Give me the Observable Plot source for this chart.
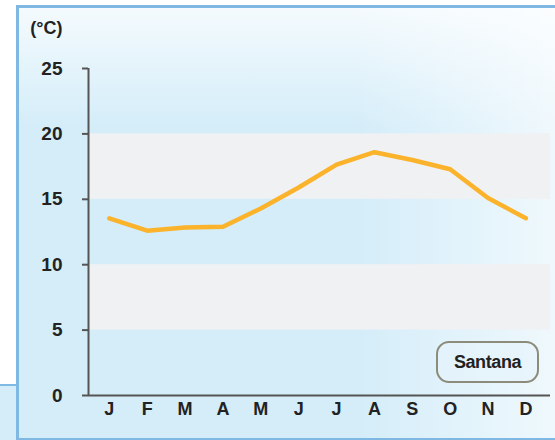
<!DOCTYPE html>
<html>
<head>
<meta charset="utf-8">
<script src="https://cdn.jsdelivr.net/npm/d3@7"></script>
<script src="https://cdn.jsdelivr.net/npm/@observablehq/plot@0.6"></script>
<style>
  html, body { margin: 0; padding: 0; background: white; }
  #wrap { position: relative; width: 555px; height: 440px; overflow: hidden; font-family: "Liberation Sans", Arial, sans-serif; }
  #leftpanel { position: absolute; left: 0; top: 384px; width: 18px; height: 60px; background: #d4edf9; border-top: 2px solid #7fb8e3; }
  #panel { position: absolute; left: 16px; top: 5px; width: 560px; height: 430px; border-left: 3px solid #7fb8e3; border-top: 3px solid #7fb8e3; border-bottom: 2px solid #7fb8e3;
    background:
      linear-gradient(to bottom, rgba(255,255,255,0.75) 0%, rgba(255,255,255,0) 28%),
      linear-gradient(to right, rgba(255,255,255,0) 60%, rgba(255,255,255,0.7) 100%),
      #d4edf9; }
  #chart { position: absolute; left: 0; top: 0; }
  #legend { position: absolute; left: 436px; top: 341px; width: 99px; height: 38px; border: 2px solid #8d8c7a; border-radius: 13px; background: rgba(230,244,251,0.6);
    display: flex; align-items: center; justify-content: center; font-weight: 700; font-size: 18px; color: #222; box-sizing: content-box; letter-spacing: -0.4px; }
</style>
</head>
<body>
<div id="wrap">
  <div id="leftpanel"></div>
  <div id="panel"></div>
  <div id="chart"></div>
  <div id="legend">Santana</div>
</div>
<script>
const months = ["J","F","M","A","M","J","J","A","S","O","N","D"];
const temps = [13.55, 12.6, 12.85, 12.9, 14.3, 15.9, 17.65, 18.6, 18.0, 17.3, 15.1, 13.55];
const yTicks = [0, 5, 10, 15, 20, 25];
const bands = [[5, 10], [15, 20]];
const unitLabel = "(°C)";
const seriesName = "Santana";

const data = months.map((m, i) => ({i, m, t: temps[i]}));
const bandData = bands.map(([a, b]) => ({y1: a, y2: b}));
const xMin = -0.55, xMax = 11.65;
const font = "'Liberation Sans', Arial, sans-serif";

const plot = Plot.plot({
  width: 555,
  height: 440,
  marginLeft: 88,
  marginRight: 5,
  marginTop: 68,
  marginBottom: 45,
  style: {background: "transparent", fontFamily: font, fontSize: "18px", fontWeight: 700, color: "#222"},
  x: {domain: [xMin, xMax]},
  y: {domain: [0, 25]},
  marks: [
    Plot.rect(bandData, {x1: xMin, x2: xMax, y1: "y1", y2: "y2", fill: "#f0f1f3"}),
    Plot.axisY({ticks: yTicks, tickSize: 6, tickPadding: 20, stroke: "#555", strokeWidth: 2, label: null, fill: "#222", fontWeight: 700, fontSize: 19}),
    Plot.axisX({ticks: d3.range(12), tickFormat: i => months[i], tickSize: 0, tickPadding: 7, label: null, fill: "#222", fontWeight: 700, fontSize: 18}),
    Plot.ruleX([xMin], {y1: 0, y2: 25, stroke: "#555", strokeWidth: 2}),
    Plot.ruleY([0], {stroke: "#555", strokeWidth: 2}),
    Plot.line(data, {x: "i", y: "t", stroke: "#fbb32b", strokeWidth: 4.5, strokeLinejoin: "round", strokeLinecap: "round"}),
    Plot.text([unitLabel], {frameAnchor: "top-left", dx: -26, dy: -47, textAnchor: "end", text: d => d, fontWeight: 700, fontSize: 18, fill: "#222"})
  ]
});
document.getElementById("chart").appendChild(plot);
</script>
</body>
</html>
